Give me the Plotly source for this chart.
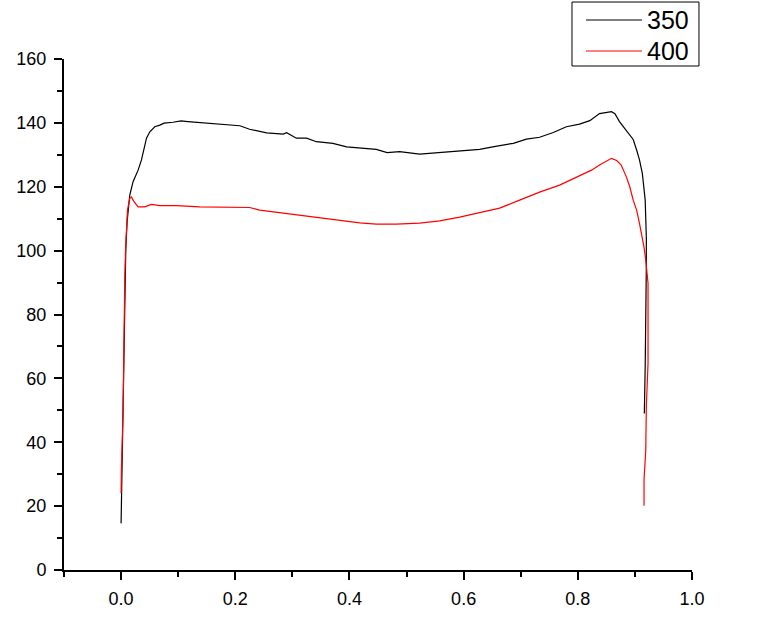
import plotly.graph_objects as go

# series "350" (black)
x_350 = [0.0, 0.0007, 0.0017, 0.0035, 0.0047, 0.0052, 0.0065, 0.0082, 0.0105,
         0.0152, 0.021, 0.0298, 0.0357, 0.0403, 0.0445, 0.0503, 0.059, 0.0678,
         0.0753, 0.091, 0.105, 0.117, 0.138, 0.161, 0.185, 0.208, 0.225, 0.255,
         0.284, 0.29, 0.307, 0.325, 0.342, 0.371, 0.395, 0.424, 0.447, 0.466,
         0.488, 0.523, 0.558, 0.593, 0.628, 0.651, 0.687, 0.71, 0.733, 0.757,
         0.78, 0.803, 0.821, 0.838, 0.85, 0.859, 0.865, 0.873, 0.882, 0.891,
         0.897, 0.903, 0.908, 0.913, 0.916, 0.918, 0.919, 0.92, 0.92, 0.9195,
         0.918, 0.9165]
y_350 = [14.6, 21.9, 36.5, 47.0, 59.5, 78.3, 87.7, 100.2, 109.0,
         117.4, 121.6, 125.2, 128.4, 132.5, 135.2, 137.2, 138.8, 139.3,
         139.9, 140.2, 140.6, 140.4, 140.1, 139.6, 139.3, 139.1, 138.0, 136.9,
         136.5, 136.9, 135.2, 135.2, 134.1, 133.6, 132.5, 132.0, 131.7, 130.7,
         131.0, 130.2, 130.7, 131.2, 131.7, 132.5, 133.6, 134.9, 135.5, 137.0,
         138.8, 139.6, 140.7, 142.9, 143.2, 143.5, 142.9, 140.4, 138.3, 136.2,
         134.8, 131.5, 128.4, 124.2, 120.0, 115.8, 110.0, 104.0, 95.0, 76.2,
         63.7, 49.0]

# series "400" (red)
x_400 = [0.0, 0.0005, 0.0035, 0.0047, 0.0065, 0.0082, 0.0095, 0.0112, 0.0152,
         0.018, 0.022, 0.0298, 0.0415, 0.053, 0.068, 0.097, 0.138, 0.167, 0.196,
         0.225, 0.243, 0.266, 0.295, 0.325, 0.354, 0.389, 0.418, 0.447, 0.482,
         0.523, 0.558, 0.593, 0.628, 0.663, 0.698, 0.733, 0.768, 0.803, 0.824,
         0.838, 0.85, 0.859, 0.868, 0.876, 0.885, 0.891, 0.897, 0.903, 0.908,
         0.912, 0.916, 0.919, 0.923, 0.923, 0.92, 0.919, 0.916, 0.916]
y_400 = [24.0, 31.0, 50.0, 79.0, 91.8, 102.0, 109.6, 112.7, 116.4,
         116.8, 115.5, 113.7, 113.7, 114.5, 114.1, 114.1, 113.7, 113.7, 113.5,
         113.5, 112.7, 112.2, 111.5, 110.8, 110.1, 109.3, 108.7, 108.3, 108.3,
         108.6, 109.3, 110.5, 112.0, 113.3, 115.8, 118.3, 120.5, 123.3, 125.2,
         126.8, 128.0, 128.9, 128.2, 126.8, 123.1, 120.0, 115.8, 112.7, 108.5,
         105.0, 101.0, 97.0, 89.8, 64.7, 51.1, 37.6, 28.2, 20.1]

series = [("350", x_350, y_350, "#000000"), ("400", x_400, y_400, "#ff0000")]

fig = go.Figure()
for name, xs, ys, color in series:
    fig.add_trace(go.Scatter(x=xs, y=ys, mode="lines", name=name, showlegend=False,
                             line=dict(color=color, width=1.2)))

font_family = "Arial, Liberation Sans, sans-serif"

# Origin-style boxed legend drawn by hand in paper coordinates
fig.add_shape(type="rect", xref="paper", yref="paper",
              x0=0.8089, x1=1.0111, y0=0.9863, y1=1.1115,
              line=dict(color="black", width=1), fillcolor="white", layer="above")
for (name, xs, ys, color), ly in zip(series, [1.0763, 1.0157]):
    fig.add_shape(type="line", xref="paper", yref="paper",
                  x0=0.8312, x1=0.9204, y0=ly, y1=ly,
                  line=dict(color=color, width=1.2))
    fig.add_annotation(text=name, xref="paper", yref="paper", x=0.925, y=ly,
                       xanchor="left", yanchor="middle", showarrow=False,
                       font=dict(family=font_family, size=25, color="black"))

axis_style = dict(
    showline=True, linecolor="black", linewidth=2,
    showgrid=False, zeroline=False, automargin=False,
    ticks="outside", ticklen=8, tickwidth=1.5, tickcolor="black",
    tickfont=dict(family=font_family, size=18, color="black"),
)

fig.update_xaxes(range=[-0.1, 1.0], tick0=0, dtick=0.2, tickformat=".1f",
                 ticklabelstandoff=3,
                 minor=dict(dtick=0.1, tick0=0, ticks="outside", ticklen=5,
                            tickwidth=1.5, tickcolor="black"),
                 **axis_style)
fig.update_yaxes(range=[0, 160], tick0=0, dtick=20, ticklabelstandoff=4,
                 minor=dict(dtick=10, tick0=0, ticks="outside", ticklen=5,
                            tickwidth=1.5, tickcolor="black"),
                 **axis_style)

fig.update_layout(
    width=760, height=617,
    margin=dict(l=64, r=68, t=59, b=47),
    plot_bgcolor="white", paper_bgcolor="white",
)

# drop the browser's default 8px body margin so the figure sits at the page corner
fig.write_html("out.html", config={"displayModeBar": False},
               post_script="document.body.style.margin='0';")
